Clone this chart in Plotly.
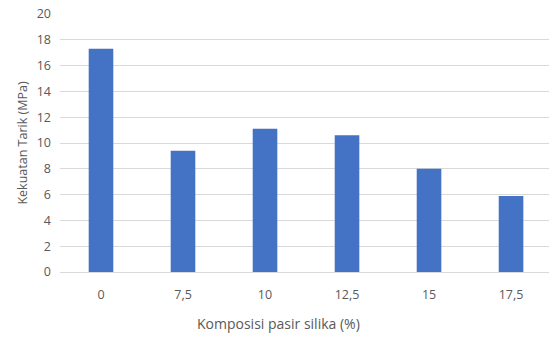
import plotly.graph_objects as go

# Silica sand composition (%) and tensile strength (MPa)
komposisi = ["0", "7,5", "10", "12,5", "15", "17,5"]
kekuatan_tarik = [17.3, 9.4, 11.1, 10.6, 8.0, 5.9]
y_ticks = [0, 2, 4, 6, 8, 10, 12, 14, 16, 18, 20]

FONT = "Open Sans"
GREY = "#595959"

fig = go.Figure(
    go.Bar(
        x=komposisi,
        y=kekuatan_tarik,
        marker=dict(color="#4472C4", line=dict(width=0)),
    )
)

fig.update_layout(
    width=549,
    height=338,
    margin=dict(l=60, r=0, t=14, b=66),
    paper_bgcolor="white",
    plot_bgcolor="white",
    bargap=0.7,
    showlegend=False,
    font=dict(family=FONT, size=12, color=GREY),
)

fig.update_xaxes(
    type="category",
    range=[-0.5, 5.463],
    showgrid=False,
    showline=True,
    linecolor="#D9D9D9",
    linewidth=1,
    ticks="",
    tickfont=dict(family=FONT, size=12.5, color=GREY),
    ticklabelstandoff=11,
)

fig.update_yaxes(
    range=[0, 20],
    tickvals=y_ticks,
    showgrid=True,
    gridcolor="#D9D9D9",
    gridwidth=1,
    zeroline=False,
    showline=False,
    ticks="",
    tickfont=dict(family=FONT, size=12.5, color=GREY),
    ticklabelstandoff=8,
    title=dict(
        text="Kekuatan Tarik (MPa)",
        font=dict(family=FONT, size=12.5, color=GREY),
        standoff=6,
    ),
)

# x-axis title, centred on the whole chart rather than the plot area
fig.add_annotation(
    text="Komposisi pasir silika (%)",
    xref="paper",
    yref="paper",
    x=0.446,
    y=-0.2,
    xanchor="center",
    yanchor="middle",
    showarrow=False,
    font=dict(family=FONT, size=14, color=GREY),
)

fig.write_html("out.html")
